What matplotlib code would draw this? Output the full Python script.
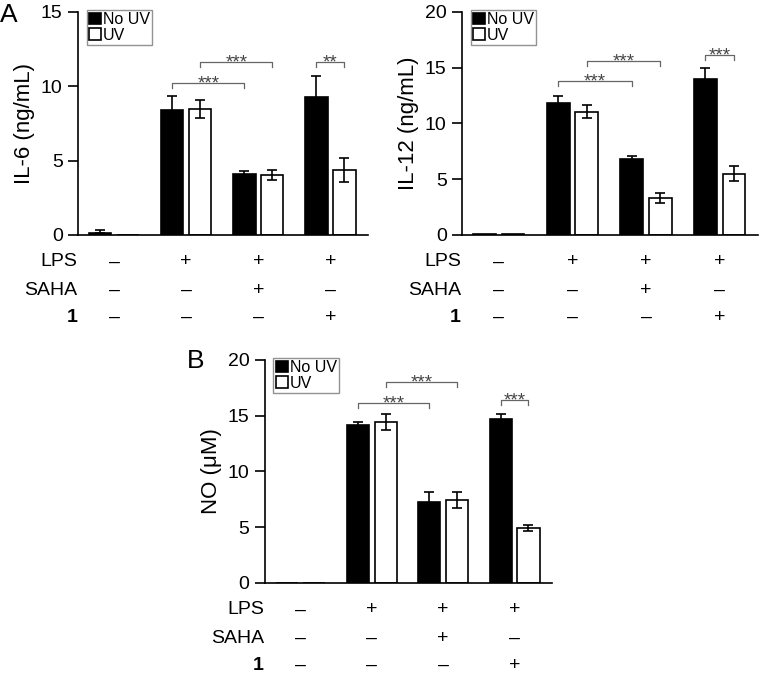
import matplotlib
matplotlib.use("Agg")
import matplotlib.pyplot as plt
import numpy as np

plt.rcParams['font.family'] = ['Liberation Sans', 'DejaVu Sans']

groups = [0, 1, 2, 3]
series = ["No UV", "UV"]

il6_nouv = [0.15, 8.4, 4.08, 9.25]
il6_nouv_err = [0.2, 0.95, 0.22, 1.45]
il6_uv = [0.0, 8.48, 4.05, 4.37]
il6_uv_err = [0.0, 0.6, 0.33, 0.8]

il12_nouv = [0.08, 11.87, 6.85, 14.02]
il12_nouv_err = [0.0, 0.63, 0.25, 0.95]
il12_uv = [0.08, 11.06, 3.29, 5.5]
il12_uv_err = [0.0, 0.6, 0.45, 0.7]

no_nouv = [0.0, 14.15, 7.22, 14.66]
no_nouv_err = [0.0, 0.27, 0.9, 0.53]
no_uv = [0.0, 14.45, 7.4, 4.93]
no_uv_err = [0.0, 0.7, 0.72, 0.23]

row_names = ["LPS", "SAHA", "1"]
lps_row = ["–", "+", "+", "+"]
saha_row = ["–", "–", "+", "–"]
cmpd_row = ["–", "–", "–", "+"]

# brackets: (group_a, series_a, group_b, series_b, level, text)
il6_sig = [(1, 0, 2, 0, 10.2, "***"), (1, 1, 2, 1, 11.65, "***"), (3, 0, 3, 1, 11.65, "**")]
il12_sig = [(1, 0, 2, 0, 13.8, "***"), (1, 1, 2, 1, 15.6, "***"), (3, 0, 3, 1, 16.1, "***")]
no_sig = [(1, 0, 2, 0, 16.1, "***"), (1, 1, 2, 1, 18.05, "***"), (3, 0, 3, 1, 16.4, "***")]

fig = plt.figure(figsize=(7.61, 6.76), dpi=100)

W = 0.31
OFF = 0.194


def panel(rect, nouv, nouv_err, uv, uv_err, ymax, ylabel, sig, bracket_drop):
    ax = fig.add_axes(rect)
    x = np.array(groups, dtype=float)
    ax.bar(x - OFF, nouv, W, color="black", edgecolor="black", linewidth=1.2,
           label=series[0], zorder=2)
    ax.bar(x + OFF, uv, W, color="white", edgecolor="black", linewidth=1.2,
           label=series[1], zorder=2)
    for xi, v, e in zip(x - OFF, nouv, nouv_err):
        if e > 0:
            ax.errorbar(xi, v, yerr=[[e if v > 0.5 else 0], [e]], fmt="none",
                        ecolor="black", elinewidth=1.2, capsize=3.5, capthick=1.2, zorder=3)
    for xi, v, e in zip(x + OFF, uv, uv_err):
        if e > 0:
            ax.errorbar(xi, v, yerr=e, fmt="none", ecolor="black",
                        elinewidth=1.2, capsize=3.5, capthick=1.2, zorder=3)
    ax.set_xlim(-0.5, 3.52)
    ax.set_ylim(0, ymax)
    ax.set_yticks(np.arange(0, ymax + 0.1, 5))
    ax.spines["top"].set_visible(False)
    ax.spines["right"].set_visible(False)
    ax.spines["left"].set_linewidth(1.2)
    ax.spines["bottom"].set_linewidth(1.2)
    ax.set_xticks([])
    ax.tick_params(axis="y", direction="out", length=7, width=1.2, labelsize=14, pad=4)
    ax.set_ylabel(ylabel, fontsize=16, labelpad=4)
    for ga, sa, gb, sb, lvl, txt in sig:
        xa = ga + (OFF if sa else -OFF)
        xb = gb + (OFF if sb else -OFF)
        ax.plot([xa, xa, xb, xb], [lvl - bracket_drop, lvl, lvl, lvl - bracket_drop],
                color="#666666", lw=0.9, clip_on=False, zorder=4)
        ax.annotate(txt, ((xa + xb) / 2, lvl), xytext=(0, -4.0), textcoords="offset points",
                    ha="center", va="baseline", fontsize=13.5, color="#444444")
    leg = ax.legend(loc="upper left", bbox_to_anchor=(0.03, 1.01), fontsize=11.5,
                    frameon=True, fancybox=False, edgecolor="#777777",
                    handlelength=0.75, handleheight=0.75, handletextpad=0.12,
                    borderpad=0.15, labelspacing=0.05, borderaxespad=0.0)
    leg.get_frame().set_linewidth(1.0)
    rows = [lps_row, saha_row, cmpd_row]
    yoffs = [-0.121, -0.247, -0.368]
    for name, row, yo in zip(row_names, rows, yoffs):
        ax.text(-0.003, yo, name, transform=ax.transAxes, ha="right", va="center",
                fontsize=14, fontweight="bold" if name == "1" else "normal")
        for g, s in zip(groups, row):
            ax.text(g, yo, s, transform=ax.get_xaxis_transform(), ha="center",
                    va="center", fontsize=14)
    return ax


axA1 = panel([0.1025, 0.6524, 0.381, 0.33], il6_nouv, il6_nouv_err, il6_uv, il6_uv_err,
             15, "IL-6 (ng/mL)", il6_sig, 0.33)
axA2 = panel([0.607, 0.6524, 0.389, 0.33], il12_nouv, il12_nouv_err, il12_uv, il12_uv_err,
             20, "IL-12 (ng/mL)", il12_sig, 0.44)
axB = panel([0.348, 0.1376, 0.377, 0.33], no_nouv, no_nouv_err, no_uv, no_uv_err,
            20, "NO (μM)", no_sig, 0.44)

fig.text(0.0, 0.995, "A", fontsize=19, ha="left", va="top")
fig.text(0.246, 0.483, "B", fontsize=19, ha="left", va="top")

fig.savefig("out.png", dpi=100)
